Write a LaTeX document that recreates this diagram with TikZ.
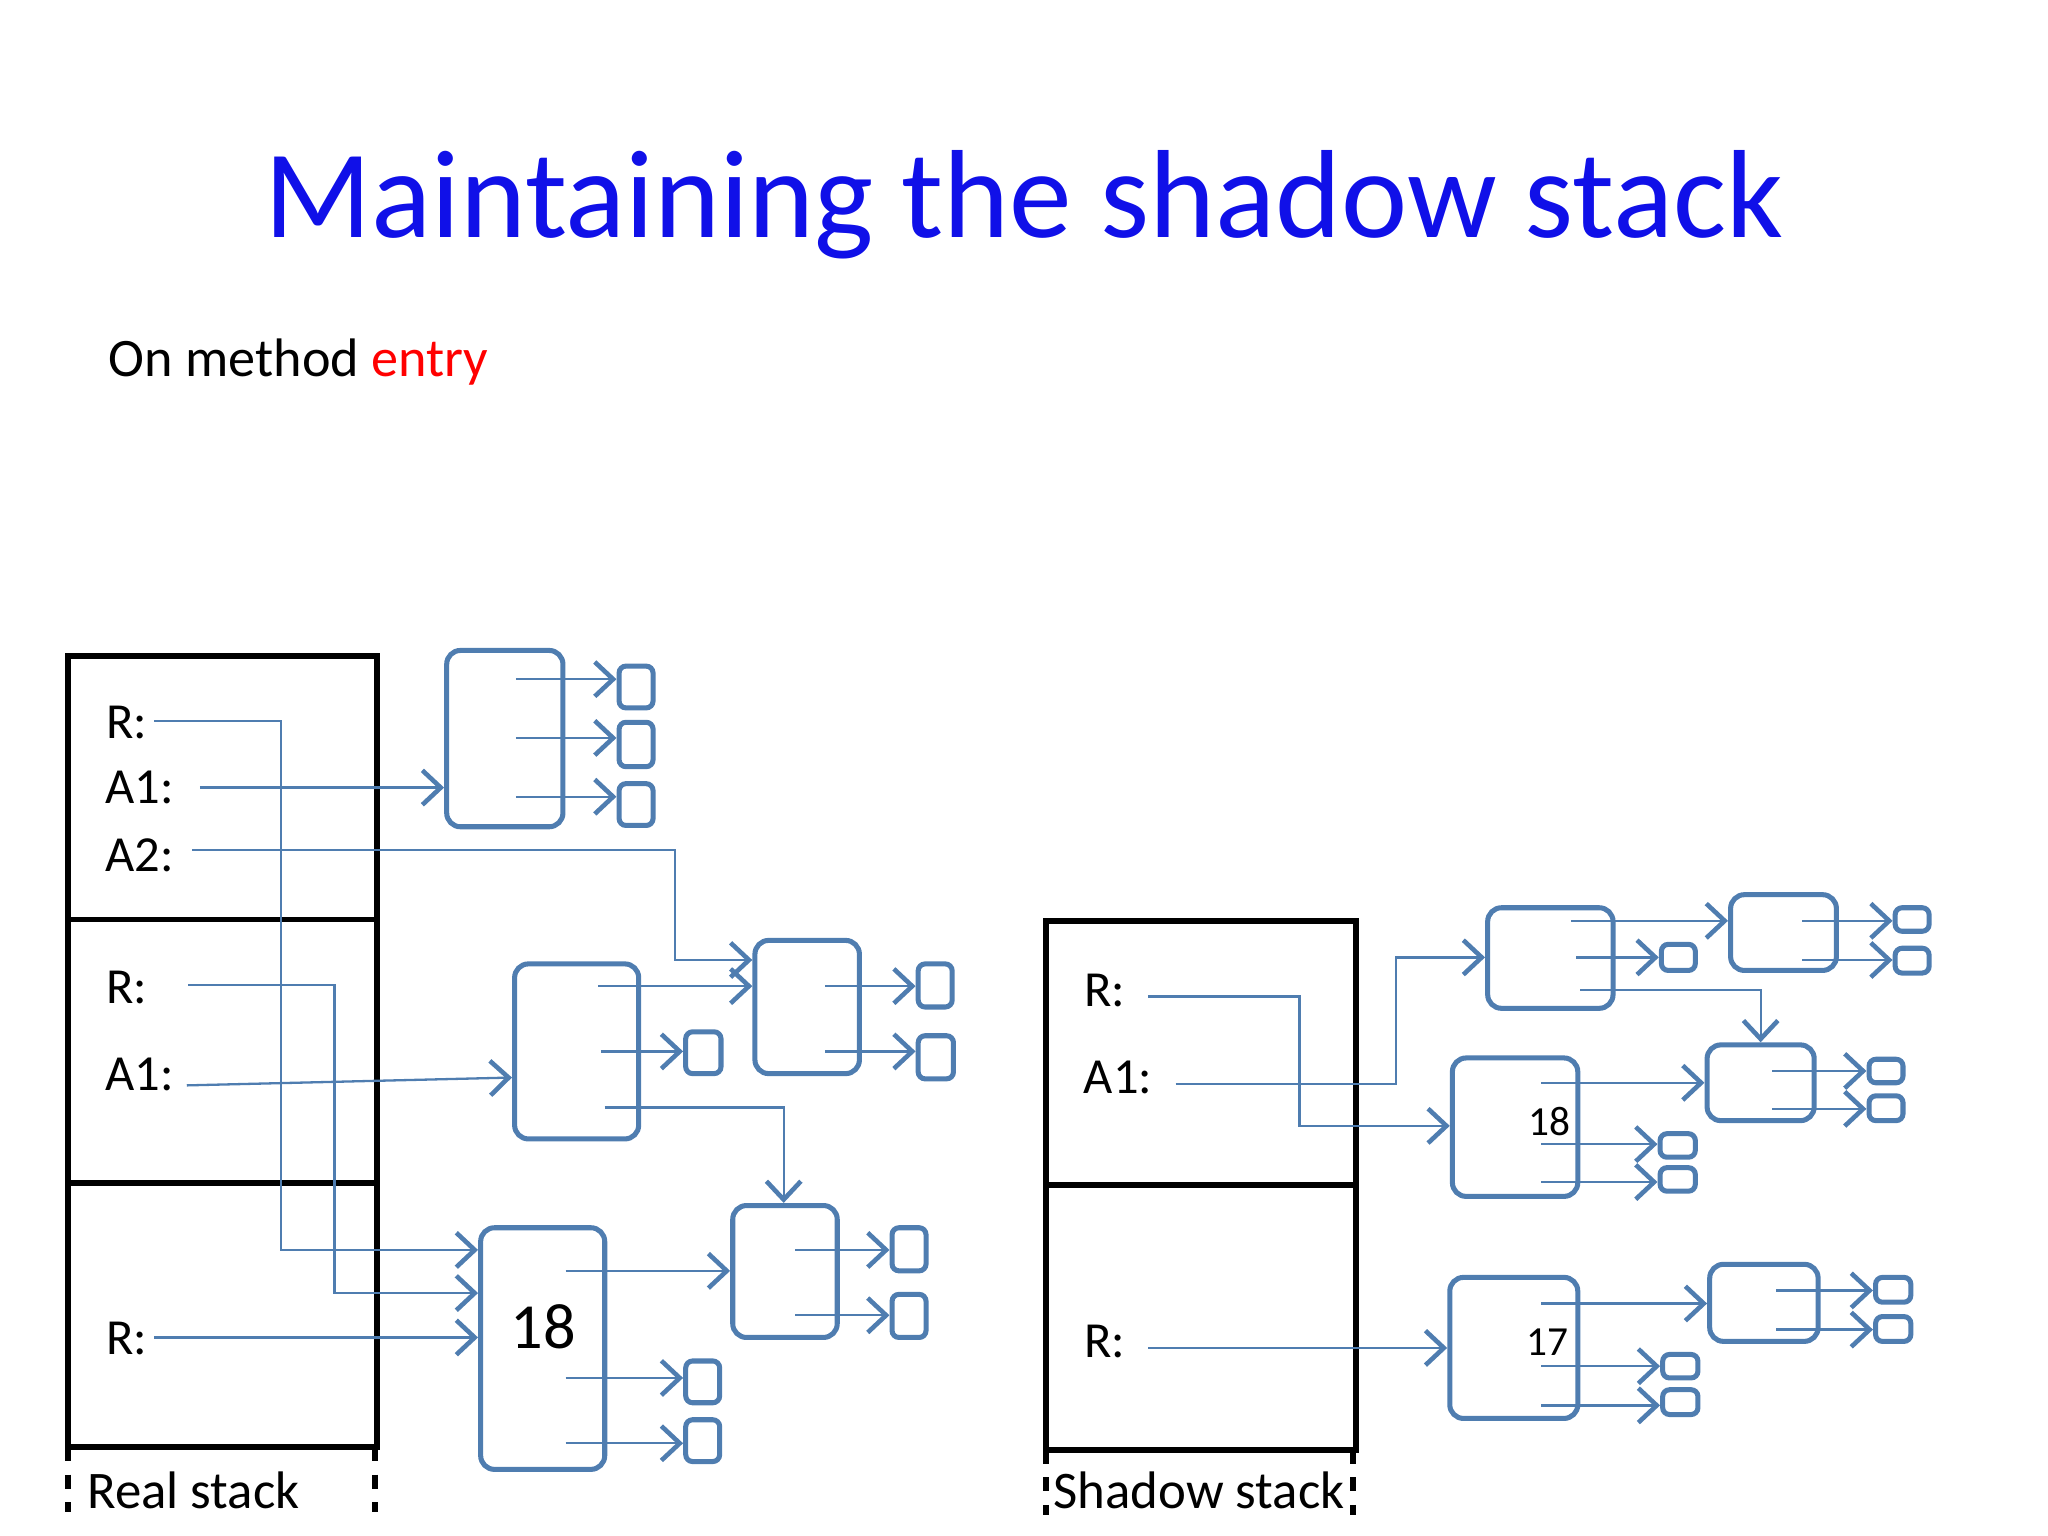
\documentclass[tikz,border=0pt]{standalone}
\usepackage{fontspec}
\setmainfont{Carlito}
\usetikzlibrary{arrows.meta}
\definecolor{bl}{HTML}{4F7DB0}
\definecolor{tblue}{HTML}{1010E8}
\tikzset{
 rbox/.style={draw=bl,line width=1.1pt,rounded corners=3pt,inner sep=0,outer sep=0},
 sbox/.style={draw=bl,line width=1.1pt,rounded corners=1.5pt,inner sep=0,outer sep=0},
 ar/.style={draw=bl,line width=0.5pt,-{Straight Barb[length=4pt,width=7.5pt,line width=1pt]}},
 stk/.style={line width=1.3pt},
 lab/.style={font=\fontsize{11}{13}\selectfont,anchor=center}
}
\newcommand\bx[5]{\node[rbox,minimum width={(#4-#2)*0.01cm},minimum height={(#5-#3)*0.01cm}] (#1) at ({(#2+#4)/2},{(#3+#5)/2}) {};}
\newcommand\sx[5]{\node[sbox,minimum width={(#4-#2)*0.01cm},minimum height={(#5-#3)*0.01cm}] (#1) at ({(#2+#4)/2},{(#3+#5)/2}) {};}
\begin{document}
\begin{tikzpicture}[x=0.01cm,y=-0.01cm]
\useasboundingbox (0,0) rectangle (1568,1176);
\node[text=tblue,font=\fontsize{27.3}{30}\selectfont] (title) at (784,157) {Maintaining the shadow stack};
\node[anchor=west,font=\fontsize{11.8}{14}\selectfont] (sub) at (71,277) {On method \textcolor{red}{entry}};
% real stack
\draw[stk] (52,502) rectangle (289,1108);
\draw[stk] (52,704) -- (289,704) (52,906) -- (289,906);
\draw[stk,dashed] (52,1108) -- (52,1158) (287,1108) -- (287,1158);
\node[lab,font=\fontsize{11.5}{13}\selectfont] (rl) at (148,1141) {Real stack};
% shadow stack
\draw[stk] (801,705) rectangle (1038,1110);
\draw[stk] (801,907) -- (1038,907);
\draw[stk,dashed] (801,1110) -- (801,1160) (1036,1110) -- (1036,1160);
\node[lab,font=\fontsize{11.5}{13}\selectfont] (sl) at (918,1141) {Shadow stack};
% labels
\node[lab] (r1) at (97,553) {R:};
\node[lab] (a11) at (107,603) {A1:};
\node[lab] (a21) at (107,655) {A2:};
\node[lab] (r2) at (97,756) {R:};
\node[lab] (a12) at (107,823) {A1:};
\node[lab] (r3) at (97,1025) {R:};
\node[lab] (sr1) at (846,758) {R:};
\node[lab] (sa1) at (856,825) {A1:};
\node[lab] (sr2) at (846,1027) {R:};
% left boxes
\bx{B1}{342}{498}{431}{633}
\sx{b11}{474}{510}{500}{542}\sx{b12}{474}{553}{500}{587}\sx{b13}{474}{600}{500}{632}
\bx{B2}{394}{738}{489}{872}
\sx{b21}{525}{790}{552}{822}
\bx{B3}{578}{720}{658}{822}
\sx{b31}{703}{738}{729}{771}\sx{b32}{703}{793}{730}{826}
\bx{B4}{561}{923}{641}{1024}
\sx{b41}{683}{940}{709}{973}\sx{b42}{683}{991}{709}{1024}
\bx{B5}{368}{940}{463}{1125}
\node[font=\fontsize{14}{16}\selectfont] (n18) at (416,1016) {18};
\sx{b51}{525}{1042}{551}{1074}\sx{b52}{525}{1087}{551}{1119}
% left arrows
\draw[ar] (395,520) -- (472,520);
\draw[ar] (395,565) -- (472,565);
\draw[ar] (395,610) -- (472,610);
\draw[ar] (153,603) -- (340,603);
\draw[ar] (460,805) -- (523,805);
\draw[ar] (632,755) -- (701,755);
\draw[ar] (632,805) -- (701,805);
\draw[ar] (609,957) -- (681,957);
\draw[ar] (609,1007) -- (681,1007);
\draw[ar] (433,1055) -- (523,1055);
\draw[ar] (433,1105) -- (523,1105);
\draw[ar] (433,973) -- (559,973);
\draw[ar] (458,755) -- (576,755);
\draw[ar] (463,848) -- (600,848) -- (600,921);
\draw[ar] (147,651) -- (517,651) -- (517,735) -- (576,735);
\draw[ar] (118,552) -- (215,552) -- (215,957) -- (366,957);
\draw[ar] (144,754) -- (256,754) -- (256,990) -- (366,990);
\draw[ar] (118,1024) -- (366,1024);
\draw[ar] (143,831) -- (392,825);
% shadow boxes
\bx{S1}{1139}{695}{1235}{772}
\bx{S2}{1325}{685}{1406}{743}
\bx{S3}{1112}{810}{1208}{916}
\node[font=\fontsize{9}{11}\selectfont] (t18) at (1186,859) {18};
\bx{S4}{1307}{800}{1389}{858}
\bx{S5}{1110}{978}{1208}{1086}
\node[font=\fontsize{9}{11}\selectfont] (t17) at (1185,1028) {17};
\bx{S6}{1309}{968}{1392}{1027}
\sx{s11}{1272}{723}{1298}{743}
\sx{s21}{1451}{695}{1477}{713}\sx{s22}{1451}{726}{1477}{745}
\sx{s31}{1271}{868}{1298}{886}\sx{s32}{1271}{894}{1298}{912}
\sx{s41}{1431}{811}{1457}{829}\sx{s42}{1431}{839}{1457}{858}
\sx{s51}{1273}{1037}{1300}{1055}\sx{s52}{1273}{1064}{1300}{1083}
\sx{s61}{1436}{978}{1463}{997}\sx{s62}{1436}{1008}{1463}{1027}
% shadow arrows
\draw[ar] (879,763) -- (995,763) -- (995,862) -- (1110,862);
\draw[ar] (900,830) -- (1069,830) -- (1069,733) -- (1137,733);
\draw[ar] (1203,705) -- (1323,705);
\draw[ar] (1207,733) -- (1270,733);
\draw[ar] (1210,758) -- (1348,758) -- (1348,798);
\draw[ar] (1380,705) -- (1449,705);
\draw[ar] (1380,735) -- (1449,735);
\draw[ar] (1180,829) -- (1305,829);
\draw[ar] (1180,876) -- (1269,876);
\draw[ar] (1180,905) -- (1269,905);
\draw[ar] (1357,820) -- (1429,820);
\draw[ar] (1357,849) -- (1429,849);
\draw[ar] (879,1032) -- (1108,1032);
\draw[ar] (1180,998) -- (1307,998);
\draw[ar] (1180,1046) -- (1271,1046);
\draw[ar] (1180,1076) -- (1271,1076);
\draw[ar] (1360,988) -- (1434,988);
\draw[ar] (1360,1018) -- (1434,1018);
\end{tikzpicture}
\end{document}
